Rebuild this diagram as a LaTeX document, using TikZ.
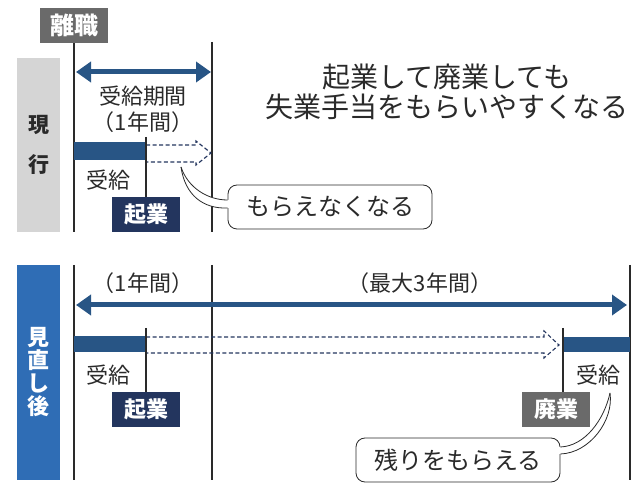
\documentclass[tikz,border=0pt]{standalone}
\usepackage{fontspec}
\setmainfont{Noto Sans CJK JP}
\usepackage{xcolor}
\usetikzlibrary{arrows.meta, positioning}

\definecolor{barblue}{HTML}{285585}
\definecolor{tagnavy}{HTML}{23355E}
\definecolor{sideblue}{HTML}{2F6DB5}
\definecolor{taggray}{HTML}{6A6A6A}
\definecolor{sidegray}{HTML}{D5D5D5}
\definecolor{inkgray}{HTML}{2A2A2A}

\begin{document}
\begin{tikzpicture}[
        x=1pt, y=-1pt,
        node distance=5pt,
        tagbox/.style={fill=tagnavy, text=white, font=\fontsize{22}{24}\selectfont\bfseries, minimum width=68pt, minimum height=35pt, inner sep=0pt},
        sidebox/.style={minimum width=43pt, inner sep=0pt, align=center},
        txt/.style={text=inkgray, font=\fontsize{22}{27}\selectfont, inner sep=0pt, align=center},
        bubble/.style={draw=inkgray, fill=white, text=inkgray, rounded corners=9pt, line width=0.8pt, minimum width=204pt, minimum height=44pt, inner sep=0pt, font=\fontsize{24}{26}\selectfont},
        tailline/.style={draw=inkgray, line width=0.8pt},
        vline/.style={line width=1.1pt, inkgray},
        period/.style={{Triangle[length=15pt,width=20pt]}-{Triangle[length=15pt,width=20pt]}, line width=5pt, barblue},
        hollow/.style={tagnavy, line width=1.1pt, dash pattern=on 4pt off 2.5pt}
    ]
    \useasboundingbox (0,0) rectangle (638,494);

    % Nodes - current rule
    \node[tagbox, fill=taggray, font=\fontsize{24}{26}\selectfont\bfseries, minimum width=68pt] (rishoku) at (74,25.5) {離職};
    \node[sidebox, fill=sidegray, minimum height=174pt, text=inkgray, font=\fontsize{21}{24}\selectfont\bfseries] (genko) at (38.5,145) {現\\[16pt]行};
    \node[txt] (kikan) at (143,96) {受給期間};
    \node[txt, below=5pt of kikan] (ichinen1) {（1年間）};
    \node[txt] (jukyu1) at (108,180) {受給};
    \node[tagbox] (kigyo1) at (146,214.5) {起業};
    \node[txt, font=\fontsize{28}{30}\selectfont] (title) at (447,92) {起業して廃業しても\\失業手当をもらいやすくなる};
    \node[bubble] (nakunaru) at (330,207) {もらえなくなる};

    % Nodes - revised rule
    \node[sidebox, fill=sideblue, minimum height=215pt, text=white, font=\fontsize{22}{23}\selectfont\bfseries] (minaoshi) at (38.5,372.5) {見\\直\\し\\後};
    \node[txt] (ichinen2) at (143,283) {（1年間）};
    \node[txt] (saidai) at (420,283) {（最大3年間）};
    \node[txt] (jukyu2) at (108,375) {受給};
    \node[txt] (jukyu3) at (598,375) {受給};
    \node[tagbox] (kigyo2) at (146,409.5) {起業};
    \node[tagbox, fill=taggray] (haigyo) at (556,409.5) {廃業};
    \node[bubble] (nokori) at (458,460) {残りをもらえる};

    % Lines - current rule
    \draw[vline] (rishoku.south) -- (74,232);
    \draw[vline] (212,42) -- (212,232);
    \draw[period] (76,72) -- (211,72);
    \fill[barblue] (74,142) rectangle (146,160);
    \draw[hollow] (146,145) -| (196,141) -- (211,153) -- (196,165) |- (146,162);
    \draw[vline] (146,137) -- (kigyo1.north);

    % Callout tail - current rule
    \coordinate (tip1) at (181,167);
    \fill[white] (tip1) .. controls (188,188) and (208,200) .. (229,200) -- (229,208) .. controls (203,209) and (185,195) .. (tip1);
    \draw[tailline] (tip1) .. controls (188,188) and (208,200) .. (nakunaru.west |- 0,200);
    \draw[tailline] (tip1) .. controls (185,195) and (203,209) .. (nakunaru.west |- 0,208);

    % Lines - revised rule
    \draw[vline] (74,265) -- (74,480);
    \draw[vline] (212,265) -- (212,480);
    \draw[vline] (630,265) -- (630,480);
    \draw[period] (76,305) -- (627,305);
    \fill[barblue] (74,336) rectangle (146,352);
    \fill[barblue] (563,337) rectangle (630,352);
    \draw[hollow] (146,337) -| (544,331) -- (559,345) -- (544,358) |- (146,353);
    \draw[vline] (146,328) -- (kigyo2.north);
    \draw[vline] (563,328) -- (563,392);

    % Callout tail - revised rule
    \coordinate (tip2) at (610,393);
    \fill[white] (tip2) .. controls (604,420) and (585,446) .. (559,447) -- (559,454) .. controls (590,453) and (614,420) .. (tip2);
    \draw[tailline] (tip2) .. controls (604,420) and (585,446) .. (nokori.east |- 0,447);
    \draw[tailline] (tip2) .. controls (614,420) and (590,453) .. (nokori.east |- 0,454);

\end{tikzpicture}
\end{document}
